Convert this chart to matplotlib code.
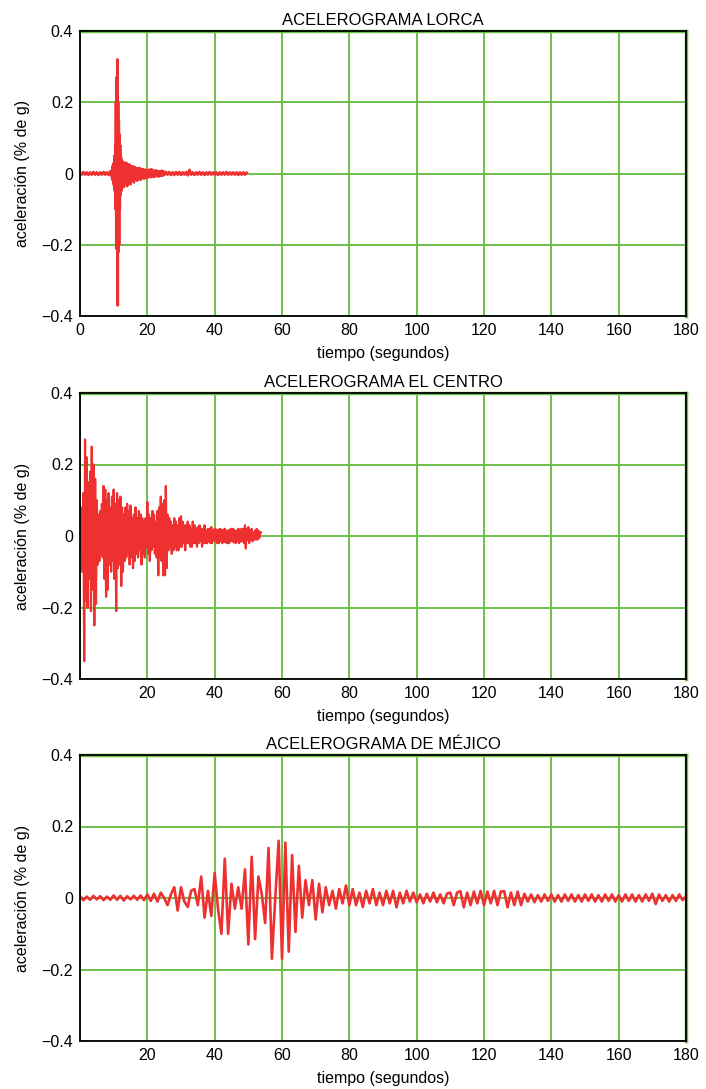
import numpy as np
import matplotlib
matplotlib.use("Agg")
import matplotlib.pyplot as plt

plt.rcParams['font.family'] = ['Liberation Sans', 'DejaVu Sans']

# ---------------- data ----------------
titles = ["ACELEROGRAMA LORCA", "ACELEROGRAMA EL CENTRO", "ACELEROGRAMA DE MÉJICO"]
xlabel = "tiempo (segundos)"
ylabel = "aceleración (% de g)"
xticks_all = [0, 20, 40, 60, 80, 100, 120, 140, 160, 180]
yticks = [-0.4, -0.2, 0, 0.2, 0.4]
ytick_labels = ["\u22120.4", "\u22120.2", "0", "0.2", "0.4"]

# Lorca: segments (start time, sampling step, values)
lorca_pre_t0, lorca_pre_dt = 0.0, 0.5
lorca_pre = [0.003, -0.003, 0.004, -0.003, 0.003, -0.004, 0.003, -0.003, 0.004, -0.003,
             0.003, -0.004, 0.003, -0.003, 0.004, -0.003, 0.003, -0.004, 0.006, -0.008]
lorca_burst_t0, lorca_burst_dt = 9.5, 0.1
lorca_burst = [0.01, -0.015, 0.02, -0.02, 0.025, -0.03, 0.03, -0.04, 0.05, -0.05,
               0.08, -0.10, 0.20, -0.21, 0.27, -0.20, 0.32, -0.37, 0.20, -0.22,
               0.15, -0.20, 0.11, -0.10, 0.08, -0.06, 0.05, -0.05, 0.04, -0.04,
               0.035, -0.036, 0.03, -0.03, 0.025]
lorca_tail_t0, lorca_tail_dt = 13.0, 0.25
lorca_tail = [-0.038, 0.03, -0.025, 0.03, -0.035, 0.025, -0.02, 0.025,
              -0.03, 0.02, -0.015, 0.02, -0.025, 0.018, -0.015, 0.015,
              -0.02, 0.015, -0.012, 0.015, -0.018, 0.012, -0.01, 0.012,
              -0.015, 0.01, -0.012, 0.01, -0.012, 0.01, -0.008, 0.01,
              -0.01, 0.012, -0.008, 0.008, -0.01, 0.008, -0.006, 0.008,
              -0.008, 0.006, -0.008, 0.006, -0.006, 0.008, -0.006, 0.006]
lorca_end_t0, lorca_end_dt = 25.0, 0.5
lorca_end = [-0.004, 0.004, -0.003, 0.004, -0.004, 0.003, -0.004, 0.004, -0.003, 0.004,
             -0.004, 0.003, -0.003, 0.004, -0.005, 0.010, -0.003, 0.003, -0.004, 0.003,
             -0.003, 0.004, -0.003, 0.003, -0.004, 0.003, -0.003, 0.004, -0.003, 0.003,
             -0.003, 0.003, -0.004, 0.003, -0.003, 0.003, -0.003, 0.004, -0.003, 0.003,
             -0.003, 0.003, -0.003, 0.003, -0.004, 0.003, -0.003, 0.003, -0.003, 0.002]

# El Centro: sampled every 0.25 s from t = 0
centro_t0, centro_dt = 0.0, 0.25
centro = [0.02, -0.05, 0.08, -0.10,   0.12, -0.35, 0.27, -0.18,
          0.22, -0.20, 0.15, -0.12,   0.18, -0.21, 0.25, -0.15,
          0.20, -0.25, 0.16, -0.19,   0.10, -0.08, 0.06, -0.07,
          0.07, -0.05, 0.09, -0.06,   0.14, -0.12, 0.13, -0.17,
          0.10, -0.15, 0.12, -0.08,   0.08, -0.10, 0.11, -0.07,
          0.13, -0.12, 0.09, -0.21,   0.12, -0.09, 0.10, -0.08,
          0.11, -0.14, 0.08, -0.10,   0.06, -0.07, 0.08, -0.06,
          0.09, -0.05, 0.07, -0.08,   0.085, -0.06, 0.05, -0.09,
          0.06, -0.07, 0.08, -0.05,   0.05, -0.06, 0.07, -0.04,
          0.06, -0.08, 0.05, -0.05,   0.04, -0.06, 0.05, -0.03,
          0.095, -0.05, 0.06, -0.07,  0.05, -0.04, 0.07, -0.03,
          0.06, -0.05, 0.04, -0.06,   0.07, -0.11, 0.08, -0.06,
          0.11, -0.07, 0.09, -0.11,   0.10, -0.11, 0.14, -0.09,
          0.06, -0.04, 0.05, -0.03,   0.04, -0.05, 0.03, -0.04,
          0.05, -0.03, 0.04, -0.04,   0.03, -0.04, 0.05, -0.03,
          0.055, -0.03, 0.04, -0.02,  0.03, -0.04, 0.03, -0.02,
          0.04, -0.02, 0.03, -0.03,   0.02, -0.03, 0.04, -0.02,
          0.03, -0.02, 0.02, -0.03,   0.025, -0.02, 0.03, -0.015,
          0.02, -0.03, 0.02, -0.02,   0.03, -0.02, 0.015, -0.02,
          0.02, -0.015, 0.02, -0.02,  0.025, -0.02, 0.015, -0.01,
          0.02, -0.015, 0.018, -0.02, 0.015, -0.02, 0.02, -0.015,
          0.018, -0.02, 0.015, -0.015, 0.02, -0.018, 0.015, -0.02,
          0.015, -0.02, 0.018, -0.015, 0.02, -0.015, 0.02, -0.018,
          0.015, -0.02, 0.015, -0.015, 0.02, -0.02, 0.018, -0.015,
          0.02, -0.015, 0.02, -0.02,  0.03, -0.035, 0.02, -0.01,
          0.025, -0.02, 0.015, -0.01, 0.02, -0.015, 0.01, -0.01,
          0.015, -0.01, 0.02, -0.01,  0.015, -0.005, 0.01, 0.01]

# Méjico: sampled every 1 s from t = 0
mejico_t0, mejico_dt = 0.0, 1.0
mejico = [0.005, -0.006, 0.004, -0.005, 0.006, -0.004, 0.005, -0.006, 0.004, -0.005,
          0.007, -0.005, 0.006, -0.007, 0.005, -0.004, 0.006, -0.005, 0.007, -0.006,
          0.010, -0.008, 0.012, -0.010, 0.015, 0.000, -0.020, 0.010, 0.030, -0.035,
          0.030, -0.010, -0.025, 0.020, 0.025, -0.020, 0.060, -0.055, 0.020, -0.050,
          0.070, -0.030, -0.100, 0.110, -0.100, 0.040, -0.030, 0.030, -0.030, 0.080,
          -0.130, 0.115, -0.115, 0.060, 0.010, -0.070, 0.140, -0.170, 0.000, 0.160,
          -0.170, 0.155, -0.150, 0.120, -0.095, 0.090, -0.055, 0.050, -0.020, 0.050,
          -0.060, 0.040, -0.040, 0.030, -0.020, 0.020, -0.030, 0.025, -0.015, 0.035,
          -0.020, 0.025, -0.020, 0.015, -0.025, 0.020, -0.015, 0.025, -0.020, 0.015,
          -0.020, 0.020, -0.015, 0.020, -0.026, 0.015, -0.015, 0.020, -0.010, 0.015,
          -0.012, 0.010, -0.015, 0.012, -0.010, 0.015, -0.012, 0.010, -0.015, 0.012,
          0.015, -0.020, 0.015, 0.019, -0.026, 0.015, -0.020, 0.018, -0.015, 0.020,
          -0.020, 0.018, -0.015, 0.020, -0.020, 0.018, 0.019, -0.026, 0.015, -0.020,
          0.018, -0.020, 0.012, -0.010, 0.010, -0.012, 0.008, -0.010, 0.010, -0.008,
          0.010, -0.010, 0.008, -0.010, 0.010, -0.008, 0.010, -0.010, 0.008, -0.010,
          0.010, -0.008, 0.010, -0.010, 0.008, -0.010, 0.010, -0.008, 0.010, -0.010,
          0.008, -0.010, 0.010, -0.008, 0.010, -0.010, 0.008, -0.010, 0.010, -0.008,
          0.012, -0.017, 0.010, -0.008, 0.008, -0.010, 0.008, -0.008, 0.010, -0.006,
          0.005]


def series(t0, dt, vals):
    return t0 + dt * np.arange(len(vals)), np.asarray(vals)


lt = []
la = []
for t0, dt, v in [(lorca_pre_t0, lorca_pre_dt, lorca_pre),
                  (lorca_burst_t0, lorca_burst_dt, lorca_burst),
                  (lorca_tail_t0, lorca_tail_dt, lorca_tail),
                  (lorca_end_t0, lorca_end_dt, lorca_end)]:
    t, a = series(t0, dt, v)
    lt.append(t)
    la.append(a)
lorca_t = np.concatenate(lt)
lorca_a = np.concatenate(la)
centro_t, centro_a = series(centro_t0, centro_dt, centro)
mejico_t, mejico_a = series(mejico_t0, mejico_dt, mejico)

records = [(lorca_t, lorca_a), (centro_t, centro_a), (mejico_t, mejico_a)]
line_widths = [2.0, 1.6, 1.9]

# ---------------- style ----------------
RED = '#ee3030'
GREEN = '#6cc04a'

fig = plt.figure(figsize=(7.06, 10.89), dpi=100)
W, H = 706.0, 1089.0
boxes = [(31, 316), (393, 679), (755, 1041)]
left, right = 80, 686

for i, ((top, bot), (t, a), title) in enumerate(zip(boxes, records, titles)):
    ax = fig.add_axes([left / W, 1 - bot / H, (right - left) / W, (bot - top) / H])
    ax.set_xlim(0, 180)
    ax.set_ylim(-0.4, 0.4)
    xt = xticks_all if i == 0 else xticks_all[1:]
    ax.set_xticks(xticks_all)
    ax.set_xticklabels([str(v) if v in xt else "" for v in xticks_all])
    ax.set_yticks(yticks)
    ax.set_yticklabels(ytick_labels)
    ax.tick_params(length=0, labelsize=11.5, pad=5, colors='black')
    ax.grid(True, color=GREEN, linewidth=1.4)
    ax.set_axisbelow(True)
    ax.axhline(0.4, color=GREEN, lw=2.5, clip_on=False, zorder=1)
    ax.axvline(180, color=GREEN, lw=2.5, clip_on=False, zorder=1)
    for s in ax.spines.values():
        s.set_color('black')
        s.set_linewidth(1.3)
        s.set_zorder(3)
    ax.plot(t, a, color=RED, lw=line_widths[i], zorder=2)
    ax.set_title(title, fontsize=12, pad=4)
    ax.set_xlabel(xlabel, fontsize=11.5, labelpad=6)
    ax.set_ylabel(ylabel, fontsize=11.5, labelpad=8)

fig.savefig("out.png", dpi=100)
